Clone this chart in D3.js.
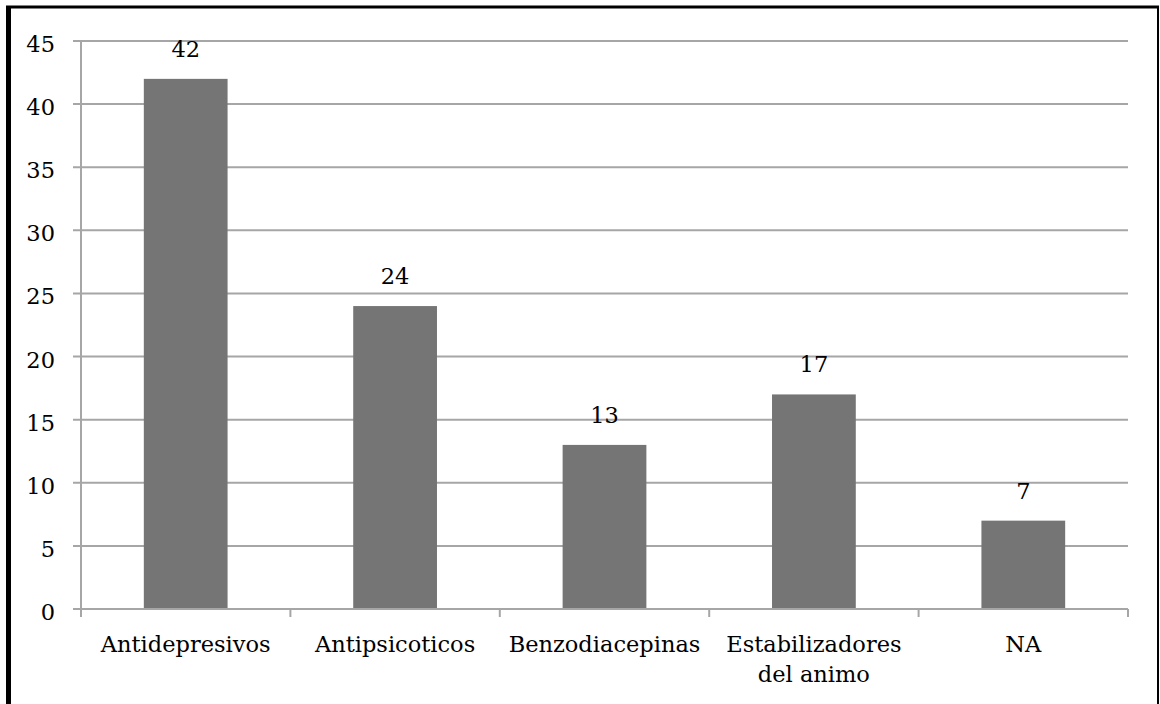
<!DOCTYPE html>
<html>
<head>
<meta charset="utf-8">
<script src="https://cdn.jsdelivr.net/npm/d3@7"></script>
<style>
  html, body { margin: 0; padding: 0; background: #fff; }
  svg { display: block; }
  text { font-family: "DejaVu Serif", serif; fill: #000; }
</style>
</head>
<body>
<svg id="chart" width="1160" height="704"></svg>
<script>
// Medication groups and counts
const categories = ["Antidepresivos", "Antipsicoticos", "Benzodiacepinas", "Estabilizadores del animo", "NA"];
const categoryLines = [["Antidepresivos"], ["Antipsicoticos"], ["Benzodiacepinas"], ["Estabilizadores", "del animo"], ["NA"]];
const values = [42, 24, 13, 17, 7];
const yTicks = [0, 5, 10, 15, 20, 25, 30, 35, 40, 45];

const svg = d3.select("#chart");
const W = 1160, H = 704;
const margin = { left: 81, right: 32, top: 41, bottom: 95 };
const fontSize = 22.5;

// Outer frame
svg.append("rect").attr("x", 0).attr("y", 0).attr("width", W).attr("height", H).attr("fill", "#fff");
svg.append("line").attr("x1", 6).attr("x2", 1159).attr("y1", 7).attr("y2", 7).attr("stroke", "#000").attr("stroke-width", 3);
svg.append("line").attr("x1", 8.5).attr("x2", 8.5).attr("y1", 6).attr("y2", H).attr("stroke", "#000").attr("stroke-width", 5);
svg.append("line").attr("x1", 1158).attr("x2", 1158).attr("y1", 6).attr("y2", H).attr("stroke", "#000").attr("stroke-width", 2);

const x = d3.scaleBand().domain(categories).range([margin.left, W - margin.right]).paddingInner(0.6).paddingOuter(0.3);
const xEdges = d3.scaleLinear().domain([0, categories.length]).range([margin.left, W - margin.right]);
const y = d3.scaleLinear().domain([0, 45]).range([H - margin.bottom, margin.top]);

const grid = "#a6a6a6";

// Horizontal gridlines with tick stubs
svg.append("g").selectAll("line").data(yTicks.filter(d => d > 0)).join("line")
  .attr("x1", margin.left - 8).attr("x2", W - margin.right)
  .attr("y1", d => y(d)).attr("y2", d => y(d))
  .attr("stroke", grid).attr("stroke-width", 2);

// Y axis line
svg.append("line").attr("x1", margin.left).attr("x2", margin.left)
  .attr("y1", y(45)).attr("y2", y(0)).attr("stroke", grid).attr("stroke-width", 2);

// Y tick labels
svg.append("g").selectAll("text").data(yTicks).join("text")
  .attr("x", 55).attr("y", d => y(d) + 11)
  .attr("text-anchor", "end").attr("font-size", fontSize)
  .text(d => d);

// Bars
svg.append("g").selectAll("rect").data(values).join("rect")
  .attr("x", (d, i) => x(categories[i]))
  .attr("width", x.bandwidth())
  .attr("y", d => y(d))
  .attr("height", d => y(0) - y(d))
  .attr("fill", "#757575");

// X axis line and category boundary ticks
svg.append("line").attr("x1", margin.left - 8).attr("x2", W - margin.right)
  .attr("y1", y(0)).attr("y2", y(0)).attr("stroke", grid).attr("stroke-width", 2);
svg.append("g").selectAll("line").data(d3.range(categories.length + 1)).join("line")
  .attr("x1", d => xEdges(d)).attr("x2", d => xEdges(d))
  .attr("y1", y(0)).attr("y2", y(0) + 8)
  .attr("stroke", grid).attr("stroke-width", 2);

// Value labels
svg.append("g").selectAll("text").data(values).join("text")
  .attr("x", (d, i) => x(categories[i]) + x.bandwidth() / 2)
  .attr("y", d => y(d) - 22)
  .attr("text-anchor", "middle").attr("font-size", fontSize)
  .text(d => d);

// Category labels
const cat = svg.append("g").selectAll("text").data(categoryLines).join("text")
  .attr("x", (d, i) => x(categories[i]) + x.bandwidth() / 2)
  .attr("y", 652)
  .attr("text-anchor", "middle").attr("font-size", fontSize);
cat.selectAll("tspan").data(d => d).join("tspan")
  .attr("x", function () { return d3.select(this.parentNode).attr("x"); })
  .attr("dy", (d, j) => j === 0 ? 0 : 30)
  .text(d => d);
</script>
</body>
</html>
